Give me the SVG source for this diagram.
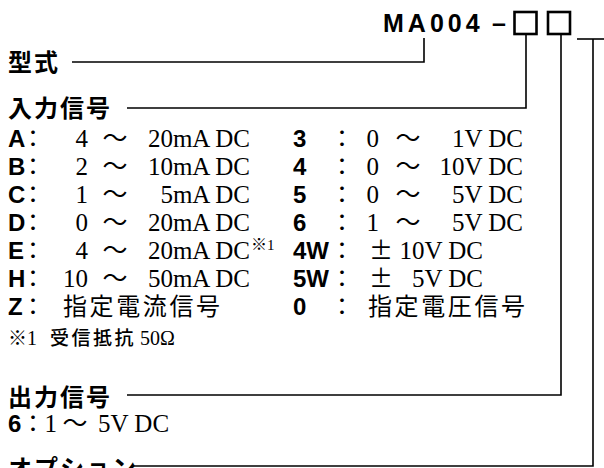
<svg xmlns="http://www.w3.org/2000/svg" width="604" height="468" viewBox="0 0 604 468">
<style>
.bg{fill:#fff}
.lbl{font-family:"Noto Sans CJK JP","Liberation Sans",sans-serif;font-weight:bold;font-size:24px;letter-spacing:2px;fill:#000}
.key{font-family:"Liberation Sans","Noto Sans CJK JP",sans-serif;font-weight:bold;font-size:24px;fill:#000}
.col{font-family:"Noto Sans CJK JP",sans-serif;font-size:24px;fill:#000}
.num{font-family:"Liberation Serif","Noto Sans CJK JP",serif;font-size:25px;fill:#000}
.pm{font-family:"Noto Sans CJK JP",sans-serif;font-size:24px;fill:#000}
.wave{font-family:"Noto Sans CJK JP",sans-serif;font-size:25px;fill:#000;text-anchor:middle}
.jp{font-family:"Noto Sans CJK JP",sans-serif;font-size:24px;letter-spacing:2.6px;fill:#000}
.end{text-anchor:end}
.sup{font-family:"Noto Sans CJK JP",sans-serif;font-weight:bold;font-size:16px;fill:#000}
.supn{font-family:"Liberation Serif",serif;font-weight:normal;font-size:15px}
.note{font-family:"Noto Sans CJK JP",sans-serif;font-weight:bold;font-size:19px;fill:#000}
.notes{font-family:"Liberation Serif",serif;font-weight:normal;font-size:20px;fill:#000}
.title{font-family:"Liberation Sans",sans-serif;font-weight:bold;font-size:25px;letter-spacing:4px;fill:#000}
.box{fill:none;stroke:#000;stroke-width:2.6}
.ln{fill:none;stroke:#000;stroke-width:1.6}
</style>
<rect class="bg" x="0" y="0" width="604" height="468"/>

<g id="title">
  <text class="title" x="383" y="32">MA004<tspan x="492" letter-spacing="0">–</tspan></text>
</g>
<g id="box-input">
  <rect class="box" x="514.5" y="12" width="22" height="22"/>
</g>
<g id="box-output">
  <rect class="box" x="548" y="12" width="22" height="22"/>
</g>

<g id="connectors">
  <polyline class="ln" points="72,62 424,62 424,38"/>
  <polyline class="ln" points="127,108 526,108 526,35"/>
  <polyline class="ln" points="127,395 561,395 561,35"/>
  <polyline class="ln" points="133,466 593,466 593,39"/>
  <line class="ln" x1="577" y1="39" x2="604" y2="39"/>
</g>

<g id="label-model">
  <text class="lbl" x="8" y="71">型式</text>
</g>

<g id="label-input">
  <text class="lbl" x="8" y="117">入力信号</text>
</g>

<g id="input-list">
  <!-- left column -->
  <text class="key" x="8" y="147">A</text><text class="col" x="21" y="147">：</text>
  <text class="num end" x="88" y="147">4</text><text class="wave" x="115" y="147">～</text><text class="num end" x="250" y="147">20mA DC</text>

  <text class="key" x="8" y="175">B</text><text class="col" x="21" y="175">：</text>
  <text class="num end" x="88" y="175">2</text><text class="wave" x="115" y="175">～</text><text class="num end" x="250" y="175">10mA DC</text>

  <text class="key" x="8" y="203">C</text><text class="col" x="21" y="203">：</text>
  <text class="num end" x="88" y="203">1</text><text class="wave" x="115" y="203">～</text><text class="num end" x="250" y="203">5mA DC</text>

  <text class="key" x="8" y="231">D</text><text class="col" x="21" y="231">：</text>
  <text class="num end" x="88" y="231">0</text><text class="wave" x="115" y="231">～</text><text class="num end" x="250" y="231">20mA DC</text>

  <text class="key" x="8" y="259">E</text><text class="col" x="21" y="259">：</text>
  <text class="num end" x="88" y="259">4</text><text class="wave" x="115" y="259">～</text><text class="num end" x="250" y="259">20mA DC</text>
  <text class="sup" x="251" y="250">※<tspan class="supn">1</tspan></text>

  <text class="key" x="8" y="287">H</text><text class="col" x="21" y="287">：</text>
  <text class="num end" x="88" y="287">10</text><text class="wave" x="115" y="287">～</text><text class="num end" x="250" y="287">50mA DC</text>

  <text class="key" x="8" y="315">Z</text><text class="col" x="21" y="315">：</text>
  <text class="jp" x="63" y="315">指定電流信号</text>

  <!-- right column -->
  <text class="key" x="293" y="147">3</text><text class="col" x="330" y="147">：</text>
  <text class="num end" x="379" y="147">0</text><text class="wave" x="408" y="147">～</text><text class="num end" x="523" y="147">1V DC</text>

  <text class="key" x="293" y="175">4</text><text class="col" x="330" y="175">：</text>
  <text class="num end" x="379" y="175">0</text><text class="wave" x="408" y="175">～</text><text class="num end" x="523" y="175">10V DC</text>

  <text class="key" x="293" y="203">5</text><text class="col" x="330" y="203">：</text>
  <text class="num end" x="379" y="203">0</text><text class="wave" x="408" y="203">～</text><text class="num end" x="523" y="203">5V DC</text>

  <text class="key" x="293" y="231">6</text><text class="col" x="330" y="231">：</text>
  <text class="num end" x="379" y="231">1</text><text class="wave" x="408" y="231">～</text><text class="num end" x="523" y="231">5V DC</text>

  <text class="key" x="293" y="259">4W</text><text class="col" x="330" y="259">：</text>
  <text class="pm" x="369" y="259">±</text><text class="num end" x="483" y="259">10V DC</text>

  <text class="key" x="293" y="287">5W</text><text class="col" x="330" y="287">：</text>
  <text class="pm" x="369" y="287">±</text><text class="num end" x="483" y="287">5V DC</text>

  <text class="key" x="293" y="315">0</text><text class="col" x="330" y="315">：</text>
  <text class="jp" x="368" y="315">指定電圧信号</text>

  <!-- note -->
  <text class="note" x="8" y="345">※<tspan class="notes">1</tspan><tspan x="50" font-weight="500" letter-spacing="2.5px">受信抵抗</tspan><tspan class="notes" x="140">50Ω</tspan></text>
</g>

<g id="label-output">
  <text class="lbl" x="8" y="406">出力信号</text>
</g>

<g id="output-list">
  <text class="key" x="8" y="432">6</text><text class="col" x="21" y="432">：</text>
  <text class="num end" x="57" y="432">1</text><text class="wave" x="75" y="432">～</text><text class="num" x="98" y="432">5V DC</text>
</g>

<g id="label-option">
  <text class="lbl" x="8" y="477" letter-spacing="0">オプション</text>
</g>
</svg>
